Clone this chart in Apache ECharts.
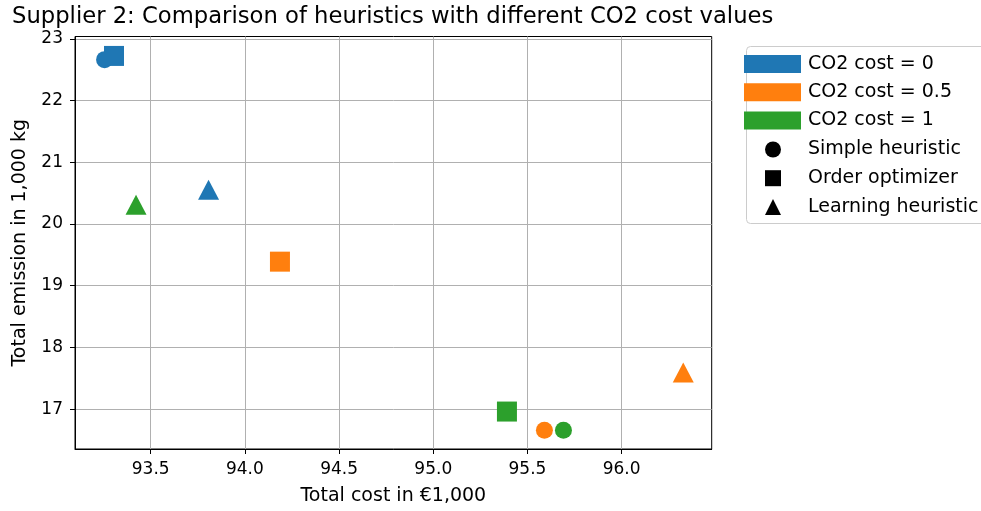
<!DOCTYPE html>
<html>
<head>
<meta charset="utf-8">
<script src="https://cdn.jsdelivr.net/npm/echarts@6/dist/echarts.min.js"></script>
<style>html,body{margin:0;padding:0;background:#fff;}#c{width:981px;height:511px;}</style>
</head>
<body>
<div id="c"></div>
<script>
const methods = ['Simple heuristic', 'Order optimizer', 'Learning heuristic'];
const methodSymbols = ['circle', 'rect', 'triangle'];
const co2Names = ['CO2 cost = 0', 'CO2 cost = 0.5', 'CO2 cost = 1'];
const co2Colors = ['#1f77b4', '#ff7f0e', '#2ca02c'];
// values per method: [Simple heuristic, Order optimizer, Learning heuristic]
const cost_co2_0 = [93.255, 93.305, 93.807];
const emission_co2_0 = [22.665, 22.725, 20.557];
const cost_co2_05 = [95.590, 94.186, 96.327];
const emission_co2_05 = [16.657, 19.390, 17.595];
const cost_co2_1 = [95.691, 95.391, 93.422];
const emission_co2_1 = [16.657, 16.960, 20.314];
const xTicks = [93.5, 94.0, 94.5, 95.0, 95.5, 96.0];
const yTicks = [17, 18, 19, 20, 21, 22, 23];

const costs = [cost_co2_0, cost_co2_05, cost_co2_1];
const emissions = [emission_co2_0, emission_co2_05, emission_co2_1];
const symbolSizes = {circle: 17, rect: 20, triangle: [21, 20]};

const font = 'DejaVu Sans';
const series = [];
co2Names.forEach((nm, i) => {
  series.push({
    name: nm, type: 'scatter', color: co2Colors[i],
    data: costs[i].map((c, j) => ({
      value: [c, emissions[i][j]],
      symbol: methodSymbols[j],
      symbolSize: symbolSizes[methodSymbols[j]]
    })),
    itemStyle: {opacity: 1},
    emphasis: {disabled: true},
    z: 3
  });
});
methods.forEach((m, j) => {
  series.push({name: m, type: 'scatter', color: '#000', itemStyle: {color: '#000', opacity: 1}, symbol: methodSymbols[j], data: []});
});

const chart = echarts.init(document.getElementById('c'), null, {renderer: 'canvas'});
chart.setOption({
  animation: false,
  backgroundColor: '#fff',
  textStyle: {fontFamily: font},
  title: {
    text: 'Supplier 2: Comparison of heuristics with different CO2 cost values',
    left: 7, top: 1,
    textStyle: {fontFamily: font, fontSize: 22.7, fontWeight: 'normal', color: '#000'}
  },
  graphic: [{
    type: 'rect', left: 746, top: 46, z: 0,
    shape: {width: 260, height: 177, r: 4},
    style: {fill: '#fff', stroke: '#cccccc', lineWidth: 1}
  }],
  legend: [{
    orient: 'vertical', left: 744, top: 54.5, padding: 0,
    itemWidth: 57, itemHeight: 18, itemGap: 9.2,
    selectedMode: false,
    data: co2Names.map(n => ({name: n, icon: 'rect'})),
    textStyle: {fontFamily: font, fontSize: 19, color: '#000', padding: [0, 0, 0, 2]}
  }, {
    orient: 'vertical', left: 765, top: 140, padding: 0,
    itemWidth: 16, itemHeight: 16, itemGap: 9.7,
    selectedMode: false,
    data: methods.map((n, j) => ({name: n, icon: methodSymbols[j], itemStyle: {color: '#000', opacity: 1}})),
    textStyle: {fontFamily: font, fontSize: 19, color: '#000', padding: [0, 0, 0, 22]}
  }],
  grid: {
    left: 75, right: 269.3, top: 36.5, bottom: 61,
    show: true, borderColor: '#000', borderWidth: 1, backgroundColor: 'transparent'
  },
  xAxis: {
    type: 'value', min: 93.098, max: 96.478,
    name: 'Total cost in €1,000', nameLocation: 'middle', nameGap: 38,
    nameTextStyle: {fontFamily: font, fontSize: 19, color: '#000'},
    axisLine: {show: true, onZero: false, lineStyle: {color: '#000', width: 1}},
    axisTick: {show: true, customValues: xTicks, length: 5, lineStyle: {color: '#000'}},
    axisLabel: {customValues: xTicks, formatter: v => v.toFixed(1), fontFamily: font, fontSize: 17, color: '#000', margin: 12},
    splitLine: {show: true, customValues: xTicks, lineStyle: {color: '#b0b0b0', width: 1}}
  },
  yAxis: {
    type: 'value', min: 16.353, max: 23.04,
    name: 'Total emission in 1,000 kg', nameLocation: 'middle', nameGap: 45,
    nameTextStyle: {fontFamily: font, fontSize: 19, color: '#000'},
    axisLine: {show: true, onZero: false, lineStyle: {color: '#000', width: 1}},
    axisTick: {show: true, customValues: yTicks, length: 5, lineStyle: {color: '#000'}},
    axisLabel: {customValues: yTicks, formatter: v => String(Math.round(v)), fontFamily: font, fontSize: 17, color: '#000', margin: 12},
    splitLine: {show: true, customValues: yTicks, lineStyle: {color: '#b0b0b0', width: 1}}
  },
  series: series
});
</script>
</body>
</html>
